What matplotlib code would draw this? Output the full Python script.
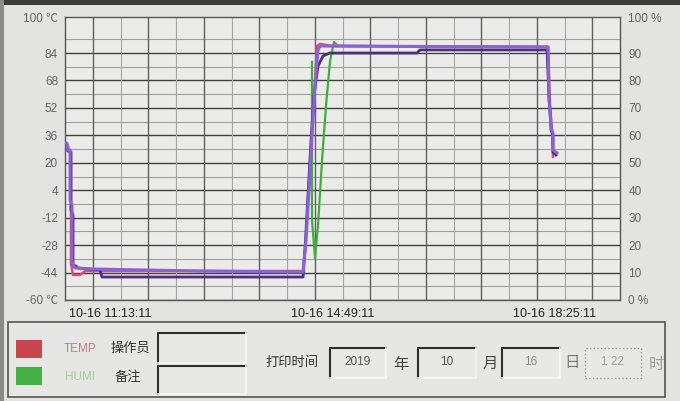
import matplotlib
matplotlib.use('Agg')
import matplotlib.pyplot as plt
import numpy as np
from matplotlib.patches import Rectangle

plt.rcParams['font.family'] = ['Liberation Sans', 'Noto Sans CJK SC', 'DejaVu Sans']

# time in minutes from 10-16 10:29:11, temperature in degC, humidity in %
violet_t = [0, 1.9, 2.9, 4.9, 4.9, 6.8, 6.8, 9.7, 24.3, 131.4, 231.6, 234.5, 237.4, 240.3,
            243.3, 246.2, 248.1, 470, 471, 471.9, 472.9, 474.8, 474.8, 478.7]
violet_v = [31.5, 31.5, 27.5, 27.5, -1.7, -4.6, -37.8, -41.3, -41.9, -43.1, -43.7, -25, 4.1, 36.2,
            65.4, 85.8, 88.1, 87.5, 56.6, 50.8, 40.3, 37.4, 27.5, 25.7]

dark_t = [0, 1.9, 2.9, 5.8, 5.8, 7.8, 7.8, 10.7, 12.6, 34, 36, 231.6, 233.5, 236.4, 239.4,
          242.3, 246.2, 251, 257.8, 342.5, 345.4, 469, 471, 471.9, 472.9, 474.8, 474.8, 477.7]
dark_v = [30.4, 30.4, 26.9, 26.3, -7.5, -10.4, -39.6, -40.2, -41.3, -42.5, -46.6, -46.6, -30.8, 1.2, 33.3,
          59.5, 76.4, 82.3, 84, 84, 85.8, 85.8, 56.6, 49.6, 39.1, 36.2, 26.3, 24.5]

temp_t = [0, 2.9, 3.9, 5.8, 5.8, 7.8, 14.6, 19.5, 231.6, 234.5, 240.3, 245.2, 248.1, 260, 470, 471.9, 473.8, 474.8]
temp_v = [29.8, 29.8, 26.3, 26.3, -38.4, -45.4, -45.4, -43.1, -43.1, -25, 36.2, 88.1, 89.3, 88.1, 87.6, 53.9, 39.1, 23.4]

humi_t = [240.3, 240.3, 243.3, 246.2, 250.1, 254, 257.8, 261.7, 265.6, 470]
humi_v = [86.8, 29.2, 15.3, 27.3, 51, 71, 86.8, 94, 92.6, 92.2]

time_ticks = [44, 260, 476]
time_labels = ['10-16 11:13:11', '10-16 14:49:11', '10-16 18:25:11']

temp_ticks = [-60, -44, -28, -12, 4, 20, 36, 52, 68, 84]
humi_ticks = [0, 10, 20, 30, 40, 50, 60, 70, 80, 90]

fig = plt.figure(figsize=(6.8, 4.01), dpi=100)
fig.patch.set_facecolor('#e3e3e1')
ax = fig.add_axes([65/680, 1-300/401, 555/680, 283/401])
ax.set_facecolor('#ebebea')
ax.set_xlim(0, 540)
ax.set_ylim(-60, 105)

# grid
for i, y in enumerate(np.arange(-60, 93, 8)):
    if i % 2 == 0:
        ax.axhline(y, color='#404040', lw=1.0, zorder=1)
    else:
        ax.axhline(y, color='#a0a0a0', lw=0.8, zorder=1)
for i, x in enumerate(np.arange(27, 540, 27)):
    if i % 2 == 0:
        ax.axvline(x, color='#606060', lw=1.0, zorder=1)
    else:
        ax.axvline(x, color='#a6a6a6', lw=0.8, zorder=1)

hum2temp = lambda p: -60 + np.array(p) * 1.6
ax.plot(humi_t, hum2temp(humi_v), color='#3fae3f', lw=1.6, zorder=2)
ax.plot(temp_t, temp_v, color='#d8506e', lw=1.8, zorder=3)
ax.plot(dark_t, dark_v, color='#4d2f7c', lw=2.0, zorder=4)
ax.plot(violet_t, violet_v, color='#8862d6', lw=2.2, zorder=5)

for s in ax.spines.values():
    s.set_color('#555555')
    s.set_linewidth(1.0)

ax.set_yticks(temp_ticks + [105])
ax.set_yticklabels(['-60 \u2103'] + [str(v) for v in temp_ticks[1:]] + ['100 \u2103'])
ax.tick_params(axis='y', length=0, pad=5, labelsize=8.5, labelcolor='#666666')
ax.set_xticks(time_ticks)
ax.set_xticklabels(time_labels)
ax.tick_params(axis='x', length=0, pad=6, labelsize=9, labelcolor='#222222')

ax2 = ax.twinx()
ax2.set_ylim(0, 103.125)
ax2.set_yticks(humi_ticks + [103.125])
ax2.set_yticklabels(['0 %'] + [str(v) for v in humi_ticks[1:]] + ['100 %'])
ax2.tick_params(axis='y', length=0, pad=6, labelsize=8.5, labelcolor='#666666')
for s in ax2.spines.values():
    s.set_visible(False)

# bottom panel
def box(x0, y0, x1, y1, **kw):
    fig.add_artist(Rectangle((x0/680, 1-y1/401), (x1-x0)/680, (y1-y0)/401,
                             transform=fig.transFigure, **kw))

def line(xs, ys, **kw):
    fig.add_artist(plt.Line2D([x/680 for x in xs], [1-y/401 for y in ys],
                              transform=fig.transFigure, **kw))

def label(x, y, s, **kw):
    fig.text(x/680, 1-y/401, s, ha='center', va='center', **kw)

box(8, 322, 665, 397, facecolor='#e6e6e4', edgecolor='#555555', lw=1.2)
box(16, 340, 42, 358, facecolor='#c9454f', edgecolor='none')
box(16, 367, 42, 385, facecolor='#45b045', edgecolor='none')
label(80, 349, 'TEMP', color='#c97a80', fontsize=8.5)
label(80, 377, 'HUMI', color='#9fd09f', fontsize=8.5)
label(130, 348, '操作员', color='#333333', fontsize=9.5, family='Noto Sans CJK SC')
label(128, 377, '备注', color='#333333', fontsize=9.5, family='Noto Sans CJK SC')
label(292, 362, '打印时间', color='#333333', fontsize=9.5, family='Noto Sans CJK SC')

def sunken(x0, y0, x1, y1, dotted=False):
    box(x0, y0, x1, y1, facecolor='#e8e8e6', edgecolor='none')
    if dotted:
        box(x0, y0, x1, y1, facecolor='none', edgecolor='#9a9a9a', lw=1.0, ls=':')
    else:
        line([x0, x0, x1], [y1, y0, y0], color='#2e2e2e', lw=1.5)
        line([x0, x1, x1], [y1, y1, y0], color='#f6f6f6', lw=1.2)

sunken(158, 333, 246, 363)
sunken(158, 366, 246, 394)
sunken(330, 348, 386, 378)
sunken(418, 348, 476, 378)
sunken(502, 348, 560, 378)
sunken(585, 348, 641, 378, dotted=True)
label(358, 362, '2019', color='#555555', fontsize=8.5)
label(447, 362, '10', color='#555555', fontsize=8.5)
label(531, 362, '16', color='#888888', fontsize=8.5)
label(612, 362, '1 22', color='#a0a0a0', fontsize=8.5)
label(401, 364, '年', color='#444444', fontsize=11, family='Noto Sans CJK SC')
label(490, 363, '月', color='#444444', fontsize=11, family='Noto Sans CJK SC')
label(572, 363, '日', color='#777777', fontsize=11, family='Noto Sans CJK SC')
label(656, 364, '时', color='#999999', fontsize=11, family='Noto Sans CJK SC')

# dark screen edges from the photo
box(0, 0, 680, 5, facecolor='#3c3c3c', edgecolor='none')
box(0, 0, 4, 401, facecolor='#8a8a8a', edgecolor='none')

fig.savefig('out.png', dpi=100, facecolor=fig.get_facecolor())
